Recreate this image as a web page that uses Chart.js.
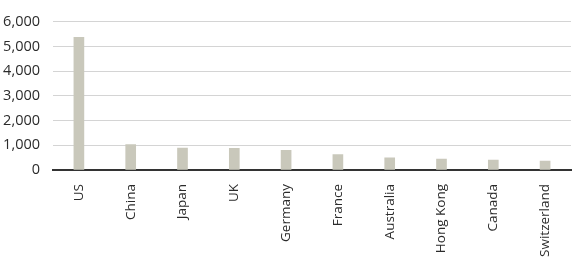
<!DOCTYPE html>
<html>
<head>
<meta charset="utf-8">
<script src="https://cdn.jsdelivr.net/npm/chart.js@4"></script>
<style>
html,body{margin:0;padding:0;background:#fff;}
#wrap{width:580px;height:263px;position:relative;}
</style>
</head>
<body>
<div id="wrap"><canvas id="c" width="580" height="263"></canvas></div>
<script>
const categories = ["US","China","Japan","UK","Germany","France","Australia","Hong Kong","Canada","Switzerland"];
const values = [5370, 1030, 890, 880, 800, 620, 490, 440, 400, 360];
const yTicks = [0, 1000, 2000, 3000, 4000, 5000, 6000];

new Chart(document.getElementById('c'), {
  type: 'bar',
  data: {
    labels: categories,
    datasets: [{
      data: values,
      backgroundColor: '#c9c8bb',
      borderWidth: 0,
      barThickness: 10
    }]
  },
  options: {
    responsive: false,
    animation: false,
    devicePixelRatio: 1,
    plugins: { legend: { display: false }, tooltip: { enabled: false } },
    layout: { padding: { top: 20, right: 9, left: 0, bottom: 0 } },
    scales: {
      x: {
        grid: { display: false },
        border: { color: '#333333', width: 2 },
        ticks: {
          minRotation: 90, maxRotation: 90,
          color: '#2b2b2b',
          font: { family: 'Open Sans', size: 13.5 },
          padding: 6
        },
        afterFit: (s) => { s.height = 93; }
      },
      y: {
        min: 0, max: 6000,
        afterBuildTicks: (s) => { s.ticks = yTicks.map(v => ({ value: v })); },
        grid: { color: '#d4d4d4', lineWidth: 1, drawTicks: false },
        border: { display: false },
        ticks: {
          color: '#2b2b2b',
          font: { family: 'Open Sans', size: 14.5 },
          padding: 13,
          callback: (v) => v.toLocaleString('en-US')
        },
        afterFit: (s) => { s.width = 53; }
      }
    }
  }
});
</script>
</body>
</html>
